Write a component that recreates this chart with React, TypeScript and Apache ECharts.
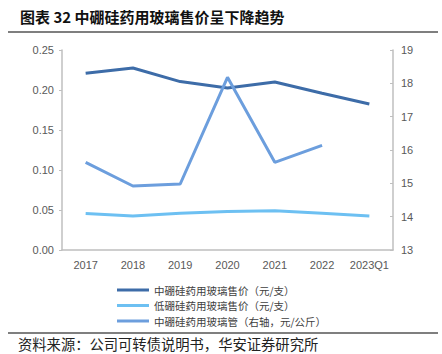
import React, { useEffect, useRef } from "react";
import * as echarts from "echarts";

const categories = ["2017", "2018", "2019", "2020", "2021", "2022", "2023Q1"];
const midPrice = [0.221, 0.2275, 0.2105, 0.2025, 0.21, 0.196, 0.1825];
const lowPrice = [0.0455, 0.0425, 0.046, 0.048, 0.049, 0.046, 0.0425];
const tubePrice: (number | null)[] = [15.63, 14.92, 14.98, 18.18, 15.63, 16.14, null];
const seriesNames = [
  "中硼硅药用玻璃售价（元/支）",
  "低硼硅药用玻璃售价（元/支）",
  "中硼硅药用玻璃管（右轴，元/公斤）",
];
const titleText = "图表 32 中硼硅药用玻璃售价呈下降趋势";
const sourceText = "资料来源：公司可转债说明书，华安证券研究所";

const FONT = "'Noto Sans CJK SC', 'Noto Sans', sans-serif";
const AXIS_FONT = "'Liberation Sans', Arial, sans-serif";

export default function App() {
  const ref = useRef<HTMLDivElement>(null);
  useEffect(() => {
    if (!ref.current) return;
    const chart = echarts.init(ref.current, null, { renderer: "svg" });
    const axisLabel = { color: "#595959", fontSize: 11, fontFamily: AXIS_FONT };
    const axisLine = { show: true, lineStyle: { color: "#BFBFBF", width: 1.5 } };
    chart.setOption({
      animation: false,
      backgroundColor: "#ffffff",
      graphic: [
        {
          type: "text",
          left: 20,
          top: 9,
          style: { text: titleText, fontSize: 15, fontWeight: "bold", fill: "#111", fontFamily: FONT },
        },
        {
          type: "line",
          shape: { x1: 8, y1: 32, x2: 438, y2: 32 },
          style: { stroke: "#555", lineWidth: 1.5 },
        },
        {
          type: "line",
          shape: { x1: 8, y1: 333, x2: 438, y2: 333 },
          style: { stroke: "#555", lineWidth: 1.5 },
        },
        {
          type: "text",
          left: 18,
          top: 336,
          style: { text: sourceText, fontSize: 14.3, fill: "#222", fontFamily: FONT },
        },
      ],
      grid: { left: 62, right: 49, top: 50, bottom: 104 },
      legend: {
        orient: "vertical",
        left: 112,
        top: 279,
        itemWidth: 32,
        itemHeight: 3,
        itemGap: 3.5,
        icon: "rect",
        textStyle: { fontSize: 10.5, lineHeight: 12, color: "#404040", fontFamily: FONT },
        data: seriesNames,
      },
      xAxis: {
        type: "category",
        data: categories,
        boundaryGap: true,
        axisLine,
        axisTick: { show: false },
        axisLabel: { ...axisLabel, margin: 9, interval: 0 },
      },
      yAxis: [
        {
          type: "value",
          min: 0,
          max: 0.25,
          interval: 0.05,
          axisLine,
          axisTick: { show: true, length: 3, lineStyle: { color: "#BFBFBF" } },
          splitLine: { show: false },
          axisLabel: { ...axisLabel, margin: 8, formatter: (v: number) => v.toFixed(2) },
        },
        {
          type: "value",
          min: 13,
          max: 19,
          interval: 1,
          position: "right",
          axisLine,
          axisTick: { show: true, length: 3, inside: true, lineStyle: { color: "#BFBFBF" } },
          splitLine: { show: false },
          axisLabel: { ...axisLabel, margin: 8 },
        },
      ],
      series: [
        {
          name: seriesNames[0],
          type: "line",
          data: midPrice,
          symbol: "none",
          color: "#3D6CA8",
          lineStyle: { width: 3 },
        },
        {
          name: seriesNames[1],
          type: "line",
          data: lowPrice,
          symbol: "none",
          color: "#6DC0F2",
          lineStyle: { width: 3 },
        },
        {
          name: seriesNames[2],
          type: "line",
          yAxisIndex: 1,
          data: tubePrice,
          symbol: "none",
          color: "#6C9EDD",
          lineStyle: { width: 3 },
        },
      ],
    });
    return () => chart.dispose();
  }, []);
  return <div ref={ref} style={{ width: 442, height: 354, position: "absolute", left: 0, top: 0 }} />;
}
